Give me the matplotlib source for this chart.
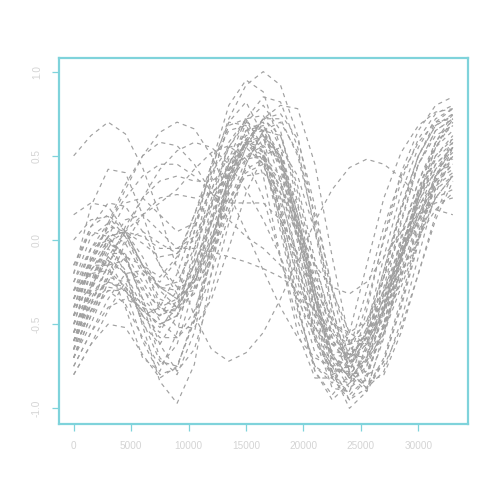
import matplotlib
matplotlib.use("Agg")
import matplotlib.pyplot as plt

x_pts = [0, 1500, 3000, 4500, 6000, 7500, 9000, 10500, 12000, 13500, 15000, 16500,
         18000, 19500, 21000, 22500, 24000, 25500, 27000, 28500, 30000, 31500, 33000]

c01 = [0.50, 0.62, 0.70, 0.63, 0.43, 0.15, -0.17, -0.45, -0.65, -0.72, -0.67, -0.55, -0.35, -0.12, 0.11, 0.30, 0.43, 0.48, 0.45, 0.37, 0.26, 0.18, 0.15]
c02 = [-0.30, -0.12, 0.08, 0.30, 0.50, 0.64, 0.70, 0.66, 0.50, 0.28, 0.05, -0.18, -0.40, -0.58, -0.70, -0.75, -0.70, -0.55, -0.32, -0.08, 0.15, 0.32, 0.40]
c03 = [-0.50, -0.18, -0.05, -0.18, -0.51, -0.84, -0.97, -0.74, -0.19, 0.37, 0.60, 0.47, 0.12, -0.32, -0.67, -0.80, -0.75, -0.61, -0.42, -0.19, 0.05, 0.31, 0.55]
c04 = [-0.60, -0.35, -0.25, -0.30, -0.45, -0.40, -0.20, 0.10, 0.42, 0.72, 0.92, 1.00, 0.92, 0.62, 0.12, -0.40, -0.78, -0.88, -0.72, -0.40, -0.02, 0.35, 0.62]
c05 = [-0.45, -0.12, 0.02, -0.10, -0.35, -0.45, -0.30, 0.05, 0.45, 0.80, 0.95, 0.88, 0.55, 0.05, -0.45, -0.82, -0.95, -0.82, -0.50, -0.10, 0.28, 0.58, 0.75]
c06 = [-0.70, -0.45, -0.30, -0.30, -0.42, -0.50, -0.45, -0.25, 0.05, 0.35, 0.58, 0.72, 0.80, 0.78, 0.45, -0.10, -0.60, -0.85, -0.80, -0.55, -0.20, 0.15, 0.40]
c07 = [-0.55, -0.25, -0.12, -0.20, -0.40, -0.52, -0.40, -0.10, 0.25, 0.55, 0.72, 0.74, 0.55, 0.15, -0.35, -0.78, -1.00, -0.90, -0.55, -0.12, 0.25, 0.55, 0.72]
c08 = [0.15, 0.22, 0.20, 0.05, -0.15, -0.28, -0.25, -0.05, 0.22, 0.45, 0.57, 0.50, 0.25, -0.10, -0.42, -0.62, -0.68, -0.58, -0.35, -0.05, 0.22, 0.42, 0.52]
c09 = [-0.20, 0.20, 0.42, 0.40, 0.15, -0.15, -0.32, -0.30, -0.10, 0.22, 0.48, 0.60, 0.50, 0.15, -0.30, -0.68, -0.82, -0.72, -0.42, -0.05, 0.28, 0.50, 0.60]
c10 = [-0.40, -0.15, 0.10, 0.33, 0.50, 0.58, 0.56, 0.45, 0.28, 0.12, 0.02, -0.05, -0.15, -0.32, -0.52, -0.66, -0.68, -0.58, -0.35, -0.05, 0.25, 0.48, 0.58]
c11 = [-0.60, -0.38, -0.15, 0.05, 0.25, 0.42, 0.53, 0.58, 0.55, 0.45, 0.30, 0.12, -0.10, -0.35, -0.58, -0.75, -0.80, -0.68, -0.40, -0.05, 0.25, 0.45, 0.55]
c12 = [0.00, 0.12, 0.14, 0.02, -0.15, -0.22, -0.10, 0.15, 0.40, 0.55, 0.58, 0.45, 0.15, -0.22, -0.52, -0.68, -0.70, -0.55, -0.30, -0.02, 0.20, 0.35, 0.42]
c13 = [-0.75, -0.55, -0.35, -0.20, -0.18, -0.28, -0.35, -0.25, 0.00, 0.30, 0.55, 0.72, 0.75, 0.60, 0.20, -0.30, -0.72, -0.88, -0.78, -0.48, -0.10, 0.28, 0.50]
c14 = [-0.65, -0.28, -0.02, -0.08, -0.38, -0.70, -0.80, -0.55, -0.08, 0.38, 0.65, 0.70, 0.45, -0.02, -0.50, -0.82, -0.90, -0.70, -0.32, 0.10, 0.45, 0.65, 0.72]
c15 = [-0.35, -0.05, 0.00, -0.20, -0.50, -0.62, -0.45, -0.05, 0.38, 0.68, 0.72, 0.50, 0.05, -0.42, -0.75, -0.85, -0.70, -0.38, 0.00, 0.35, 0.60, 0.75, 0.80]
c16 = [-0.80, -0.62, -0.42, -0.25, -0.20, -0.28, -0.30, -0.15, 0.12, 0.40, 0.58, 0.60, 0.45, 0.12, -0.25, -0.55, -0.72, -0.72, -0.55, -0.28, 0.00, 0.25, 0.38]
c17 = [-0.50, -0.20, -0.12, -0.30, -0.60, -0.80, -0.76, -0.45, -0.02, 0.38, 0.58, 0.55, 0.28, -0.15, -0.55, -0.82, -0.85, -0.65, -0.28, 0.12, 0.45, 0.65, 0.72]
c18 = [-0.25, 0.02, 0.10, 0.02, -0.18, -0.25, -0.12, 0.15, 0.45, 0.65, 0.68, 0.52, 0.18, -0.25, -0.60, -0.78, -0.75, -0.52, -0.18, 0.18, 0.45, 0.62, 0.68]
c19 = [-0.60, -0.42, -0.20, 0.00, 0.05, -0.02, -0.08, 0.00, 0.20, 0.42, 0.58, 0.62, 0.50, 0.20, -0.15, -0.48, -0.68, -0.70, -0.52, -0.22, 0.08, 0.33, 0.45]
c20 = [-0.45, -0.15, -0.15, -0.40, -0.70, -0.78, -0.55, -0.12, 0.35, 0.70, 0.82, 0.62, 0.15, -0.38, -0.78, -0.95, -0.85, -0.52, -0.10, 0.28, 0.55, 0.72, 0.78]
c21 = [-0.70, -0.38, -0.15, -0.12, -0.28, -0.48, -0.58, -0.48, -0.20, 0.15, 0.45, 0.65, 0.70, 0.52, 0.15, -0.28, -0.62, -0.80, -0.75, -0.52, -0.20, 0.12, 0.35]
c22 = [-0.55, -0.30, -0.05, 0.12, 0.15, 0.05, -0.05, 0.02, 0.22, 0.45, 0.62, 0.65, 0.48, 0.10, -0.35, -0.72, -0.88, -0.80, -0.50, -0.10, 0.25, 0.50, 0.62]
c23 = [-0.30, -0.05, 0.05, -0.02, -0.20, -0.40, -0.45, -0.30, 0.00, 0.35, 0.60, 0.68, 0.50, 0.10, -0.35, -0.70, -0.85, -0.75, -0.42, 0.00, 0.35, 0.58, 0.68]
c24 = [-0.65, -0.42, -0.30, -0.38, -0.58, -0.75, -0.62, -0.28, 0.12, 0.45, 0.65, 0.68, 0.48, 0.05, -0.42, -0.78, -0.92, -0.82, -0.50, -0.08, 0.30, 0.58, 0.72]
c25 = [-0.40, -0.10, 0.08, 0.05, -0.15, -0.35, -0.40, -0.22, 0.10, 0.42, 0.58, 0.52, 0.22, -0.20, -0.58, -0.78, -0.78, -0.55, -0.18, 0.20, 0.50, 0.68, 0.75]
c26 = [-0.20, 0.08, 0.22, 0.20, 0.05, -0.15, -0.28, -0.25, -0.05, 0.22, 0.42, 0.48, 0.35, 0.05, -0.30, -0.58, -0.68, -0.60, -0.38, -0.10, 0.15, 0.35, 0.45]
c27 = [-0.75, -0.55, -0.40, -0.35, -0.40, -0.45, -0.38, -0.15, 0.15, 0.48, 0.72, 0.85, 0.82, 0.55, 0.05, -0.45, -0.80, -0.90, -0.72, -0.38, 0.00, 0.38, 0.58]
c28 = [-0.60, -0.28, -0.08, -0.08, -0.25, -0.42, -0.42, -0.20, 0.20, 0.58, 0.72, 0.55, 0.10, -0.40, -0.78, -0.92, -0.80, -0.42, 0.02, 0.40, 0.65, 0.80, 0.85]
c29 = [-0.50, -0.35, -0.15, 0.08, 0.25, 0.35, 0.38, 0.35, 0.35, 0.42, 0.50, 0.48, 0.32, 0.02, -0.35, -0.62, -0.72, -0.65, -0.42, -0.12, 0.15, 0.38, 0.48]
c30 = [-0.15, 0.05, 0.02, -0.12, -0.30, -0.40, -0.35, -0.15, 0.10, 0.35, 0.48, 0.50, 0.38, 0.10, -0.22, -0.48, -0.60, -0.55, -0.35, -0.10, 0.12, 0.30, 0.38]
c31 = [-0.35, -0.18, -0.02, 0.05, 0.02, -0.05, -0.05, -0.05, -0.07, -0.10, -0.13, -0.17, -0.22, -0.30, -0.42, -0.55, -0.62, -0.58, -0.42, -0.20, 0.02, 0.18, 0.28]
c32 = [-0.45, -0.15, 0.00, -0.10, -0.35, -0.62, -0.78, -0.65, -0.30, 0.10, 0.45, 0.65, 0.62, 0.32, -0.12, -0.52, -0.75, -0.75, -0.52, -0.18, 0.12, 0.38, 0.50]
c33 = [-0.70, -0.50, -0.25, -0.02, 0.15, 0.25, 0.27, 0.25, 0.28, 0.38, 0.50, 0.56, 0.48, 0.15, -0.30, -0.68, -0.82, -0.70, -0.38, 0.02, 0.35, 0.55, 0.65]
c34 = [-0.25, -0.05, 0.10, 0.25, 0.38, 0.45, 0.45, 0.38, 0.28, 0.22, 0.22, 0.22, 0.12, -0.08, -0.35, -0.60, -0.70, -0.62, -0.40, -0.10, 0.18, 0.42, 0.55]
c35 = [-0.80, -0.62, -0.50, -0.52, -0.68, -0.82, -0.75, -0.48, -0.10, 0.28, 0.55, 0.62, 0.45, 0.08, -0.35, -0.70, -0.82, -0.72, -0.45, -0.10, 0.22, 0.45, 0.55]
c36 = [-0.55, -0.25, 0.02, 0.05, -0.10, -0.30, -0.40, -0.32, -0.05, 0.30, 0.58, 0.72, 0.62, 0.28, -0.18, -0.58, -0.80, -0.78, -0.55, -0.22, 0.10, 0.38, 0.50]
c37 = [-0.40, -0.28, -0.10, 0.05, 0.15, 0.22, 0.30, 0.42, 0.52, 0.56, 0.48, 0.25, -0.10, -0.48, -0.75, -0.82, -0.65, -0.30, 0.08, 0.38, 0.58, 0.70, 0.72]
c38 = [-0.65, -0.42, -0.22, -0.25, -0.48, -0.72, -0.75, -0.48, -0.05, 0.40, 0.70, 0.80, 0.65, 0.22, -0.30, -0.75, -0.95, -0.88, -0.58, -0.15, 0.25, 0.55, 0.70]
c39 = [-0.35, -0.12, 0.02, 0.05, -0.02, -0.10, -0.08, 0.08, 0.30, 0.50, 0.55, 0.45, 0.18, -0.15, -0.45, -0.62, -0.62, -0.48, -0.22, 0.05, 0.28, 0.40, 0.45]
c40 = [-0.55, -0.38, -0.28, -0.30, -0.42, -0.50, -0.45, -0.22, 0.12, 0.45, 0.65, 0.65, 0.42, 0.02, -0.40, -0.70, -0.75, -0.58, -0.22, 0.18, 0.50, 0.70, 0.78]
c41 = [-0.15, 0.08, 0.15, 0.05, -0.15, -0.38, -0.52, -0.52, -0.35, -0.05, 0.28, 0.50, 0.55, 0.38, 0.05, -0.30, -0.55, -0.62, -0.50, -0.25, 0.02, 0.25, 0.38]
c42 = [-0.60, -0.28, 0.02, 0.22, 0.25, 0.15, 0.05, 0.10, 0.30, 0.55, 0.70, 0.65, 0.35, -0.12, -0.58, -0.88, -0.90, -0.62, -0.22, 0.18, 0.50, 0.68, 0.74]
c43 = [-0.45, -0.32, -0.25, -0.28, -0.38, -0.45, -0.40, -0.22, 0.02, 0.25, 0.38, 0.40, 0.28, 0.02, -0.28, -0.50, -0.55, -0.48, -0.30, -0.08, 0.12, 0.25, 0.30]
c44 = [-0.70, -0.45, -0.22, -0.10, -0.15, -0.28, -0.35, -0.25, 0.00, 0.32, 0.58, 0.72, 0.72, 0.50, 0.08, -0.40, -0.78, -0.88, -0.70, -0.35, 0.02, 0.38, 0.55]
c45 = [-0.30, -0.20, -0.18, -0.28, -0.45, -0.58, -0.58, -0.42, -0.12, 0.18, 0.40, 0.45, 0.32, 0.08, -0.15, -0.28, -0.32, -0.25, -0.10, 0.05, 0.15, 0.22, 0.25]
c46 = [-0.65, -0.30, -0.10, -0.20, -0.45, -0.55, -0.35, 0.05, 0.45, 0.70, 0.68, 0.38, -0.10, -0.55, -0.82, -0.82, -0.55, -0.15, 0.25, 0.52, 0.68, 0.76, 0.78]

curves = [c01, c02, c03, c04, c05, c06, c07, c08, c09, c10, c11, c12, c13, c14, c15, c16,
          c17, c18, c19, c20, c21, c22, c23, c24, c25, c26, c27, c28, c29, c30, c31, c32,
          c33, c34, c35, c36, c37, c38, c39, c40, c41, c42, c43, c44, c45, c46]

x_ticks = [0, 5000, 10000, 15000, 20000, 25000, 30000]
y_ticks = [-1.0, -0.5, 0.0, 0.5, 1.0]
y_tick_labels = ["-1.0", "-0.5", "0.0", "0.5", "1.0"]

frame_col = "#7fd3db"
text_col = "#d4d4d4"
line_col = "#a0a0a0"

fig = plt.figure(figsize=(4.98, 4.98), dpi=100)
ax = fig.add_axes([58.5 / 498, 1 - 424 / 498, (468 - 58.5) / 498, (424 - 58) / 498])

for c in curves:
    ax.plot(x_pts, c, color=line_col, lw=0.85, linestyle=(0, (3.5, 3.5)))

ax.set_xlim(-1320, 34320)
ax.set_ylim(-1.093, 1.081)
ax.set_xticks(x_ticks)
ax.set_xticklabels([str(v) for v in x_ticks])
ax.set_yticks(y_ticks)
ax.set_yticklabels(y_tick_labels, rotation=90, va="center")

for s in ax.spines.values():
    s.set_color(frame_col)
    s.set_linewidth(1.6)
ax.tick_params(axis="both", colors=frame_col, length=5, width=0.9, labelcolor=text_col,
               labelsize=7.2, pad=7)
for lab in ax.get_xticklabels() + ax.get_yticklabels():
    lab.set_family("Liberation Sans")

fig.savefig("out.png", dpi=100)
